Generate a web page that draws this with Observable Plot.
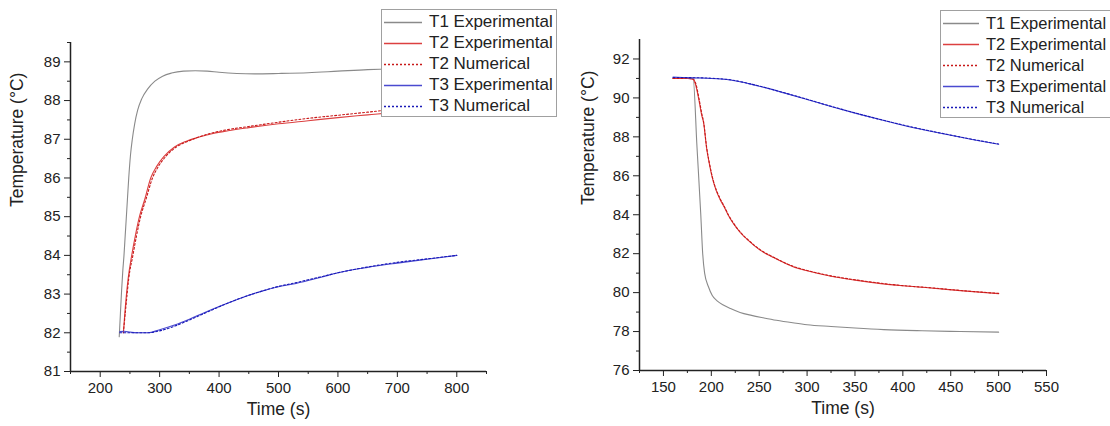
<!DOCTYPE html>
<html><head><meta charset="utf-8">
<script src="https://cdn.jsdelivr.net/npm/d3@7"></script>
<script src="https://cdn.jsdelivr.net/npm/@observablehq/plot@0.6"></script>
<style>
body{margin:0;background:#fff;overflow:hidden;font-family:Arial,"Liberation Sans",sans-serif;}
#wrap{position:relative;width:1110px;height:426px;display:flex;overflow:hidden;}
#wrap svg{display:block;flex:none;}
.legend{position:absolute;background:#fff;border:1px solid #a0a0a0;font-size:17px;color:#222;white-space:nowrap;box-sizing:border-box;}
.row{position:absolute;left:0;height:21px;display:flex;align-items:center;}
.row span{margin-left:5px;}
</style></head><body>
<div id="wrap"></div>
<script>
// ---------- Left panel (heating) ----------
const L_T1_time = [232,234,236,238,240,242,244,246,248,251,254,258,263,270,280,292,305,320,340,360,380,400,430,460,500,550,600,650,700,750,800];
const L_T1_temp = [81.9,82.5,83.1,83.6,84.0,84.5,85.0,85.5,86.0,86.6,87.0,87.4,87.75,88.05,88.3,88.5,88.63,88.71,88.76,88.77,88.76,88.73,88.7,88.69,88.7,88.72,88.76,88.8,88.82,88.83,88.84];
const L_T2e_time = [239,243,247,253,259,266,275,285,295,307,325,345,365,390,415,450,500,550,600,650,700,750,800];
const L_T2e_temp = [82.0,82.8,83.4,84.0,84.5,85.0,85.45,86.0,86.3,86.55,86.8,86.95,87.05,87.15,87.22,87.3,87.4,87.48,87.56,87.63,87.7,87.75,87.8];
const L_T2n_time = [239,244,248,255,261,268,277,288,298,310,328,348,368,390,415,450,500,550,600,650,700,750,800];
const L_T2n_temp = [82.0,82.8,83.4,84.0,84.5,85.0,85.45,86.0,86.3,86.55,86.8,86.95,87.07,87.17,87.25,87.33,87.44,87.54,87.62,87.7,87.78,87.84,87.9];
const L_T3e_time = [233,240,250,260,280,300,325,350,375,400,425,450,475,500,525,550,575,600,650,700,750,800];
const L_T3e_temp = [82.03,82.04,82.02,82.0,82.0,82.08,82.2,82.35,82.52,82.68,82.83,82.97,83.09,83.19,83.26,83.35,83.45,83.55,83.69,83.8,83.9,84.0];
const L_T3n_time = [233,240,250,260,280,300,325,350,375,400,425,450,475,500,525,550,575,600,650,700,750,800];
const L_T3n_temp = [82.0,82.0,82.0,82.0,82.0,82.05,82.17,82.33,82.5,82.67,82.83,82.97,83.09,83.2,83.28,83.37,83.46,83.55,83.7,83.82,83.91,84.0];

// ---------- Right panel (cooling) ----------
const R_T1_time = [160,170,181,185,189,191,193,197,201,206,213,220,230,242,255,268,285,300,325,350,380,420,460,500];
const R_T1_temp = [91.0,91.0,91.0,87.5,84.0,82.0,81.0,80.3,79.85,79.58,79.35,79.18,78.98,78.83,78.7,78.58,78.45,78.35,78.26,78.18,78.1,78.04,78.0,77.97];
const R_T2e_time = [160,175,181,184,187,190,192,195,198,201,205,209,214,218,223,230,240,251,265,286,300,325,350,377,400,429,460,500];
const R_T2e_temp = [91.0,91.0,90.95,90.6,89.9,89.1,88.7,87.45,86.6,85.9,85.25,84.8,84.35,83.95,83.55,83.1,82.62,82.18,81.8,81.32,81.12,80.84,80.64,80.46,80.35,80.24,80.1,79.95];
const R_T2n_time = [160,175,181,184,187,190,192,195,198,201,205,209,214,218,223,230,240,251,265,286,300,325,350,377,400,429,460,500];
const R_T2n_temp = [91.0,91.0,90.97,90.7,90.0,89.2,88.75,87.5,86.65,85.95,85.3,84.85,84.38,83.98,83.58,83.12,82.64,82.2,81.82,81.34,81.14,80.86,80.66,80.48,80.36,80.25,80.11,79.96];
const R_T3e_time = [160,170,180,190,200,210,220,230,240,250,275,300,325,350,375,400,425,450,475,500];
const R_T3e_temp = [91.07,91.05,91.03,91.02,91.0,90.97,90.92,90.83,90.72,90.6,90.27,89.92,89.56,89.22,88.9,88.6,88.33,88.08,87.84,87.62];
const R_T3n_time = [160,170,180,190,200,210,220,230,240,250,275,300,325,350,375,400,425,450,475,500];
const R_T3n_temp = [91.05,91.05,91.04,91.03,91.01,90.98,90.93,90.84,90.73,90.61,90.28,89.93,89.57,89.23,88.91,88.61,88.34,88.09,87.85,87.63];

const legendLabels = ["T1 Experimental","T2 Experimental","T2 Numerical","T3 Experimental","T3 Numerical"];
const xLabel = "Time (s)";
const yLabel = "Temperature (°C)";

const L_xTicks = [200,300,400,500,600,700,800];
const L_yTicks = [81,82,83,84,85,86,87,88,89];
const R_xTicks = [150,200,250,300,350,400,450,500,550];
const R_yTicks = [76,78,80,82,84,86,88,90,92];

const COL = {t1:"#8a8a8a", t2e:"#dc4040", t2n:"#c81818", t3e:"#4a4ad0", t3n:"#1a1ab8"};
const styles = [
  {stroke:COL.t1, dash:null},
  {stroke:COL.t2e, dash:null},
  {stroke:COL.t2n, dash:"2,2"},
  {stroke:COL.t3e, dash:null},
  {stroke:COL.t3n, dash:"2,2"}
];

function zip(t, v){ return t.map((x,i)=>({time:x, temp:v[i]})); }

function panel(o){
  const marks = [];
  o.series.forEach((s,i)=>{
    marks.push(Plot.line(s, {x:"time", y:"temp", stroke:styles[i].stroke, strokeWidth:1.1,
      strokeDasharray: styles[i].dash || undefined, curve:"monotone-x"}));
  });
  marks.push(Plot.ruleX([o.xd[0]], {stroke:"#222", strokeWidth:1.5}));
  marks.push(Plot.ruleY([o.yd[0]], {stroke:"#222", strokeWidth:1.5}));
  marks.push(Plot.axisX(o.xMajor, {tickSize:6, tickPadding:5, fontSize:15, label:null, stroke:"#222"}));
  marks.push(Plot.axisX(o.xMinor, {tickSize:3, tickFormat:()=>"", label:null, stroke:"#222"}));
  marks.push(Plot.axisY(o.yMajor, {tickSize:6, tickPadding:4, fontSize:15, label:null, stroke:"#222"}));
  marks.push(Plot.axisY(o.yMinor, {tickSize:3, tickFormat:()=>"", label:null, stroke:"#222"}));
  marks.push(Plot.text([xLabel], {frameAnchor:"bottom", dy:43, fontSize:17.5, fill:"#222"}));
  marks.push(Plot.text([yLabel], {frameAnchor:"left", dx:-o.yLabelOff, rotate:-90, fontSize:17.5, fill:"#222"}));
  return Plot.plot({
    width:o.width, height:426,
    marginLeft:o.ml, marginRight:o.mr, marginTop:o.mt, marginBottom:o.mb,
    x:{domain:o.xd}, y:{domain:o.yd},
    style:{fontFamily:'Arial, "Liberation Sans", sans-serif', color:"#222", background:"#fff", overflow:"visible"},
    marks
  });
}

const wrap = document.getElementById("wrap");
const left = panel({
  width:555, ml:70, mr:69, mt:42, mb:55,
  xd:[150,850], yd:[81,89.5],
  xMajor:L_xTicks, xMinor:d3.range(150,851,100),
  yMajor:L_yTicks, yMinor:d3.range(81.5,89.6,1),
  yLabelOff:53,
  series:[zip(L_T1_time,L_T1_temp), zip(L_T2e_time,L_T2e_temp), zip(L_T2n_time,L_T2n_temp), zip(L_T3e_time,L_T3e_temp), zip(L_T3n_time,L_T3n_temp)]
});
const right = panel({
  width:555, ml:84, mr:64, mt:39, mb:56,
  xd:[125,550], yd:[76,93],
  xMajor:R_xTicks, xMinor:d3.range(125,551,50),
  yMajor:R_yTicks, yMinor:d3.range(77,93,2),
  yLabelOff:51,
  series:[zip(R_T1_time,R_T1_temp), zip(R_T2e_time,R_T2e_temp), zip(R_T2n_time,R_T2n_temp), zip(R_T3e_time,R_T3e_temp), zip(R_T3n_time,R_T3n_temp)]
});
wrap.appendChild(left);
wrap.appendChild(right);

function legend(x, y, w, swW, fs){
  const box = document.createElement("div");
  box.className = "legend";
  Object.assign(box.style, {left:x+"px", top:y+"px", width:w+"px", height:"108px", fontSize:fs+"px"});
  legendLabels.forEach((lab,i)=>{
    const row = document.createElement("div");
    row.className = "row";
    row.style.top = (1.5 + 21*i) + "px";
    const ns = "http://www.w3.org/2000/svg";
    const s = document.createElementNS(ns,"svg");
    s.setAttribute("width", swW+2); s.setAttribute("height", 21);
    const ln = document.createElementNS(ns,"line");
    ln.setAttribute("x1",2); ln.setAttribute("x2",swW); ln.setAttribute("y1",10.5); ln.setAttribute("y2",10.5);
    ln.setAttribute("stroke", styles[i].stroke); ln.setAttribute("stroke-width",1.3);
    if (styles[i].dash) ln.setAttribute("stroke-dasharray", styles[i].dash);
    s.appendChild(ln);
    row.appendChild(s);
    const t = document.createElement("span");
    t.textContent = lab;
    row.appendChild(t);
    box.appendChild(row);
  });
  wrap.appendChild(box);
}
legend(381, 9, 176, 40, 17);
legend(940, 10, 200, 38, 16.5);
</script>
</body></html>
